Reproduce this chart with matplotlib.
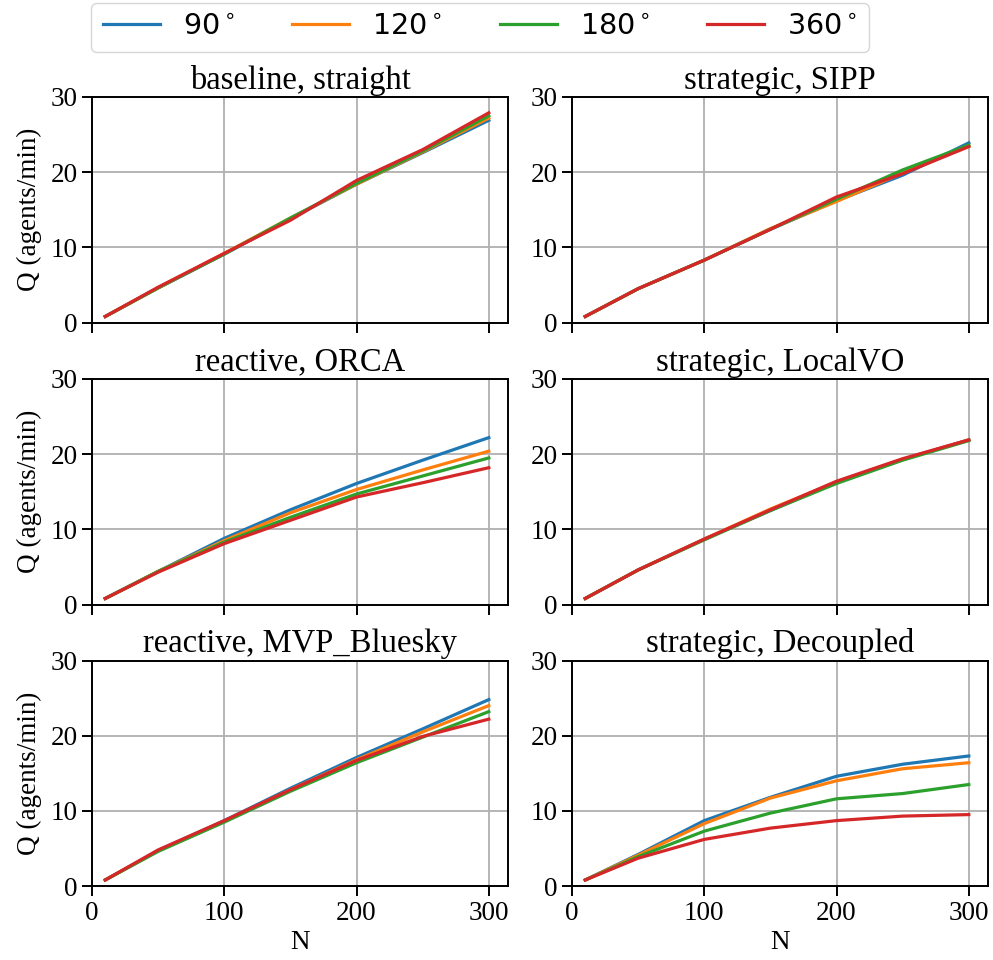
import matplotlib
matplotlib.use("Agg")
import matplotlib.pyplot as plt

plt.rcParams["font.family"] = ["Liberation Serif", "DejaVu Serif"]
plt.rcParams["mathtext.fontset"] = "dejavusans"

# Number of agents
N = [10, 50, 100, 150, 200, 250, 300]

angles = [r"$90^\circ$", r"$120^\circ$", r"$180^\circ$", r"$360^\circ$"]
colors = ["#1f77b4", "#ff7f0e", "#2ca02c", "#d62728"]

titles = [
    "baseline, straight", "strategic, SIPP",
    "reactive, ORCA", "strategic, LocalVO",
    "reactive, MVP_Bluesky", "strategic, Decoupled",
]

# Throughput Q (agents/min), one list per heading-angle setting
baseline_straight = [
    [0.8, 4.6, 9.1, 13.8, 18.4, 22.6, 26.9],
    [0.8, 4.6, 9.2, 13.9, 18.4, 22.7, 27.2],
    [0.8, 4.6, 9.1, 13.9, 18.5, 22.8, 27.5],
    [0.8, 4.7, 9.2, 13.6, 18.9, 23.0, 27.9],
]
strategic_sipp = [
    [0.8, 4.5, 8.3, 12.4, 16.2, 19.6, 23.9],
    [0.8, 4.5, 8.3, 12.5, 16.1, 19.9, 23.5],
    [0.8, 4.5, 8.3, 12.4, 16.4, 20.3, 23.6],
    [0.8, 4.5, 8.3, 12.4, 16.7, 19.8, 23.4],
]
reactive_orca = [
    [0.8, 4.4, 8.8, 12.6, 16.1, 19.2, 22.2],
    [0.8, 4.4, 8.5, 12.2, 15.3, 17.9, 20.4],
    [0.8, 4.4, 8.3, 11.6, 14.7, 17.1, 19.5],
    [0.8, 4.3, 8.1, 11.2, 14.3, 16.2, 18.2],
]
strategic_localvo = [
    [0.8, 4.6, 8.7, 12.5, 16.3, 19.3, 21.9],
    [0.8, 4.6, 8.7, 12.7, 16.3, 19.3, 21.9],
    [0.8, 4.6, 8.6, 12.5, 16.1, 19.2, 21.8],
    [0.8, 4.6, 8.7, 12.6, 16.4, 19.4, 21.9],
]
reactive_mvp = [
    [0.8, 4.7, 8.7, 13.0, 17.1, 20.9, 24.8],
    [0.8, 4.7, 8.6, 12.8, 16.8, 20.5, 24.0],
    [0.8, 4.6, 8.5, 12.6, 16.4, 19.8, 23.2],
    [0.8, 4.8, 8.7, 12.8, 16.7, 19.9, 22.2],
]
strategic_decoupled = [
    [0.8, 4.2, 8.7, 11.8, 14.6, 16.2, 17.3],
    [0.8, 4.1, 8.3, 11.7, 14.0, 15.6, 16.4],
    [0.8, 3.9, 7.3, 9.7, 11.6, 12.3, 13.5],
    [0.8, 3.7, 6.2, 7.7, 8.7, 9.3, 9.5],
]

panels = [baseline_straight, strategic_sipp, reactive_orca,
          strategic_localvo, reactive_mvp, strategic_decoupled]

fig = plt.figure(figsize=(9.93, 9.60), dpi=100)

W, H = 993.0, 960.0
lefts = [92 / W, 572 / W]
width = 416 / W
bottoms = [1 - 322.5 / H, 1 - 604.5 / H, 1 - 886 / H]
height = 225.5 / H

axes = []
for r in range(3):
    for c in range(2):
        ax = fig.add_axes([lefts[c], bottoms[r], width, height])
        axes.append(ax)

handles = []
for i, (ax, data, title) in enumerate(zip(axes, panels, titles)):
    for series, lab, col in zip(data, angles, colors):
        (ln,) = ax.plot(N, series, color=col, lw=2.3, label=lab)
        if i == 0:
            handles.append(ln)
    ax.set_xlim(0, 314.5)
    ax.set_ylim(0, 30)
    ax.set_xticks([0, 100, 200, 300])
    ax.set_yticks([0, 10, 20, 30])
    ax.grid(True, color="#b0b0b0", lw=1.3)
    ax.set_axisbelow(True)
    ax.set_title(title, fontsize=23.5, pad=6)
    ax.tick_params(labelsize=19.5, length=7, width=1.4)
    for s in ax.spines.values():
        s.set_linewidth(1.4)
    r = i // 2
    if r < 2:
        ax.tick_params(labelbottom=False)
    else:
        ax.set_xlabel("N", fontsize=19.5, labelpad=3)
    if i % 2 == 0:
        ax.set_ylabel("Q (agents/min)", fontsize=19.5, labelpad=6)

fig.legend(handles=handles, labels=angles, ncol=4, fontsize=20.6,
           loc="upper center", bbox_to_anchor=(480 / W, 1 - 3 / H),
           borderaxespad=0.0, handlelength=2.0, columnspacing=2.0)

fig.savefig("out.png", dpi=100)
